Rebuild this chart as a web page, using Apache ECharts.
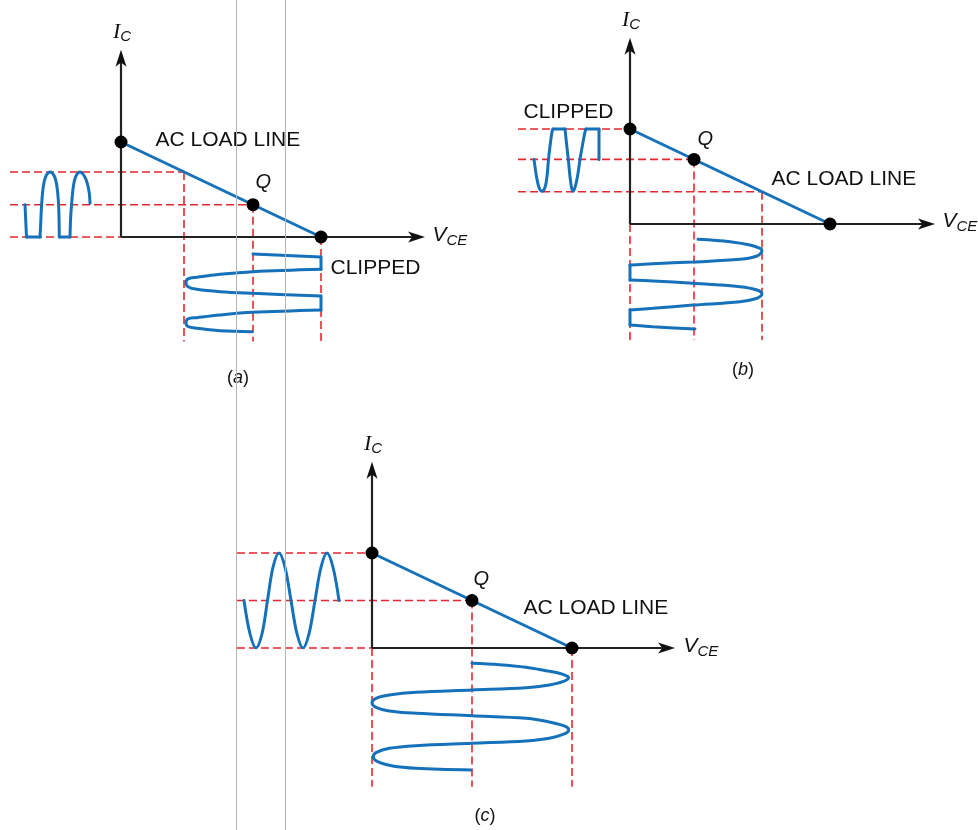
<!DOCTYPE html>
<html>
<head>
<meta charset="utf-8">
<script src="https://cdn.jsdelivr.net/npm/echarts@6/dist/echarts.min.js"></script>
<style>
html, body { margin: 0; background: #fff; }
#main { width: 978px; height: 830px; }
</style>
</head>
<body>
<div id="main"></div>
<script>
// units: V_CE in "volts" (cutoff = 20), I_C in "mA" (saturation = 10)
var panelNames = ['a', 'b', 'c'];
var loadLine = [[0, 10], [20, 0]];
var qPoints = [[13.2, 3.4], [6.4, 6.8], [10, 5]];
var axisEnds = [[30.4, 19.7], [30.5, 19.6], [30.3, 19.6]];

// red dashed projection lines, one segment each
var guidesA = [
  [[-11.1, 6.85], [6.3, 6.85]], [[-11.1, 3.4], [13.2, 3.4]], [[-11.1, 0], [0, 0]],
  [[6.3, 6.85], [6.3, -11]], [[13.2, 3.4], [13.2, -11]], [[20, 0], [20, -11]]
];
var guidesB = [
  [[-11.2, 10], [0, 10]], [[-11.2, 6.8], [6.4, 6.8]], [[-11.2, 3.4], [13.2, 3.4]],
  [[0, 0], [0, -12.2]], [[6.4, 6.8], [6.4, -12.2]], [[13.2, 3.4], [13.2, -12.2]]
];
var guidesC = [
  [[-13.5, 10], [0, 10]], [[-13.5, 5], [10, 5]], [[-13.5, 0], [0, 0]],
  [[0, 0], [0, -14.6]], [[10, 5], [10, -14.6]], [[20, 0], [20, -14.6]]
];

// input current waves (time runs left to right, left of the I_C axis)
var inputA = [
  [[-9.6, 3.4], [-9.45, 0]],
  [[-9.45, 0], [-8.1, 0]],
  [[-8.1, 0], [-8.03, 1.44], [-7.93, 3.55], [-7.77, 5.3], [-7.53, 6.35], [-7.1, 6.84], [-6.67, 6.42], [-6.43, 5.47], [-6.27, 3.9], [-6.2, 2.14], [-6.17, 0]],
  [[-6.17, 0], [-5.1, 0]],
  [[-5.1, 0], [-5.03, 2.14], [-4.93, 3.55], [-4.77, 5.3], [-4.53, 6.35], [-4.1, 6.84], [-3.67, 6.42], [-3.37, 5.65], [-3.17, 4.6], [-3.1, 3.55]]
];
var inputB = [
  [[-9.6, 6.8], [-9.35, 5.0], [-9.1, 3.85], [-8.8, 3.45], [-8.5, 3.85], [-8.3, 5.0], [-8.15, 6.8], [-7.95, 8.6], [-7.8, 9.7], [-7.7, 10]],
  [[-7.7, 10], [-6.5, 10]],
  [[-6.5, 10], [-6.35, 8.5], [-6.17, 6.8], [-6.0, 5.0], [-5.85, 3.85], [-5.7, 3.45], [-5.5, 3.85], [-5.25, 5.0], [-5.0, 6.8], [-4.7, 8.6], [-4.5, 9.7], [-4.4, 10]],
  [[-4.4, 10], [-3.1, 10]],
  [[-3.1, 10], [-3.1, 6.8]]
];
var inputC = [
  [[-12.8, 5], [-12.2, 1.5], [-11.6, 0], [-11.0, 1.5], [-10.45, 5], [-9.9, 8.5], [-9.3, 10], [-8.7, 8.5], [-8.1, 5],
   [-7.5, 1.5], [-6.9, 0], [-6.3, 1.5], [-5.7, 5], [-5.1, 8.5], [-4.5, 10], [-3.9, 8.5], [-3.3, 5]]
];

// output voltage waves (time runs downward, below the V_CE axis)
var outputA = [
  [[13.2, -1.79], [20, -2.11]],
  [[20, -2.11], [20, -3.4]],
  [[20, -3.4], [13.2, -3.65], [9.9, -3.93], [7.6, -4.24], [6.7, -4.4], [6.5, -4.81], [6.7, -5.23], [7.6, -5.51], [9.9, -5.76], [13.2, -5.93], [20, -6.21]],
  [[20, -6.21], [20, -7.68]],
  [[20, -7.68], [13.2, -7.93], [9.9, -8.21], [7.6, -8.49], [6.7, -8.62], [6.5, -9.02], [6.7, -9.42], [7.6, -9.61], [9.9, -9.86], [13.1, -9.97]]
];
var outputB = [
  [[6.8, -1.61], [10.0, -1.86], [12.0, -2.21], [13.0, -2.56], [13.2, -2.81], [12.7, -3.37], [11.0, -3.72], [6.3, -4.0], [2.3, -4.18], [0, -4.32]],
  [[0, -4.32], [0, -5.89]],
  [[0, -5.89], [2.3, -6.0], [6.3, -6.24], [11.0, -6.6], [12.7, -6.95], [13.2, -7.37], [12.7, -7.82], [11.0, -8.18], [6.3, -8.53], [2.3, -8.87], [0, -9.05]],
  [[0, -9.05], [0, -10.63]],
  [[0, -10.63], [2.3, -10.81], [6.5, -11.05]]
];
var outputC = [
  [[10.0, -1.61], [12.73, -1.76], [15.4, -2.03], [17.4, -2.39], [18.73, -2.66], [19.5, -2.95], [19.67, -3.1],
   [19.07, -3.55], [17.73, -3.89], [15.4, -4.18], [10.0, -4.42], [4.4, -4.66], [1.73, -4.95], [0.4, -5.29],
   [0, -5.76], [0.4, -6.24], [1.73, -6.63], [4.4, -6.87], [10.0, -7.13], [15.4, -7.4], [18.07, -7.86],
   [19.4, -8.28], [19.67, -8.63], [19.23, -9.05], [17.73, -9.51], [15.4, -9.79], [10.0, -10.03], [4.4, -10.28],
   [1.73, -10.56], [0.4, -11.02], [0.13, -11.44], [0.57, -11.97], [2.07, -12.42], [4.4, -12.66], [9.9, -12.84]]
];

var loadText = 'AC LOAD LINE';
var clipText = 'CLIPPED';
var qText = 'Q';

// ---- layout (pixels) ----
var SX = 10, SY = 9.5;
var layout = [
  { ox: 121, oy: 237, x: [-12, 35], y: [-16, 23] },
  { ox: 630, oy: 224, x: [-12, 34.5], y: [-16.5, 23.5] },
  { ox: 372, oy: 648, x: [-14, 32], y: [-19, 22.5] }
];
var labelSpots = [
  { ic: [0.1, 21.6], vce: [31.1, 0.2], load: [3.4, 10.2], q: [13.4, 5.7], clip: [20.9, -3.3], name: [11.7, -14.8] },
  { ic: [0.1, 21.5], vce: [31.2, 0.25], load: [14.1, 4.7], q: [6.7, 8.9], clip: [-10.7, 11.8], name: [11.3, -15.4] },
  { ic: [0.1, 21.5], vce: [31.1, 0.2], load: [15.1, 4.2], q: [10.1, 7.2], name: [11.3, -17.7] }
];

var guides = [guidesA, guidesB, guidesC];
var inputs = [inputA, inputB, inputC];
var outputs = [outputA, outputB, outputC];

var BLUE = '#1571ba';
var RED = '#e8262e';
var INK = '#111';
var upArrow = 'path://M5,0L10,16L5,12L0,16Z';
var rightArrow = 'path://M16,5L0,10L4,5L0,0Z';

var rich = {
  i: { fontFamily: 'Liberation Serif', fontStyle: 'italic', fontSize: 22, lineHeight: 26, color: INK },
  v: { fontFamily: 'Liberation Sans', fontStyle: 'italic', fontSize: 21, lineHeight: 26, color: INK },
  s: { fontFamily: 'Liberation Sans', fontStyle: 'italic', fontSize: 15, lineHeight: 15, padding: [11, 0, 0, 0], color: INK },
  t: { fontFamily: 'Liberation Sans', fontSize: 21, color: INK },
  q: { fontFamily: 'Liberation Sans', fontStyle: 'italic', fontSize: 20, color: INK },
  p: { fontFamily: 'Liberation Sans', fontSize: 18, color: INK },
  l: { fontFamily: 'Liberation Sans', fontStyle: 'italic', fontSize: 18, color: INK }
};

var grids = [], xAxes = [], yAxes = [], series = [];

function line(i, pts, extra) {
  return Object.assign({
    type: 'line', xAxisIndex: i, yAxisIndex: i, data: pts,
    symbol: 'none', silent: true, animation: false
  }, extra);
}

layout.forEach(function (L, i) {
  grids.push({
    left: L.ox + L.x[0] * SX,
    top: L.oy - L.y[1] * SY,
    width: (L.x[1] - L.x[0]) * SX,
    height: (L.y[1] - L.y[0]) * SY
  });
  xAxes.push({ type: 'value', gridIndex: i, min: L.x[0], max: L.x[1], show: false });
  yAxes.push({ type: 'value', gridIndex: i, min: L.y[0], max: L.y[1], show: false });

  guides[i].forEach(function (seg) {
    series.push(line(i, seg, { z: 1, lineStyle: { color: RED, width: 1.6, type: [8, 4] } }));
  });

  var ends = axisEnds[i];
  series.push(line(i, [[0, 0], [ends[0] - 0.6, 0]], { z: 2, lineStyle: { color: '#222', width: 2.2 } }));
  series.push(line(i, [[0, 0], [0, ends[1] - 0.6]], { z: 2, lineStyle: { color: '#222', width: 2.2 } }));
  series.push({
    type: 'scatter', xAxisIndex: i, yAxisIndex: i, silent: true, animation: false, z: 2,
    itemStyle: { color: '#111', opacity: 1 },
    data: [
      { value: [ends[0], 0], symbol: rightArrow, symbolSize: [17, 11], symbolOffset: ['-50%', 0] },
      { value: [0, ends[1]], symbol: upArrow, symbolSize: [11, 17], symbolOffset: [0, '50%'] }
    ]
  });

  inputs[i].concat(outputs[i]).forEach(function (piece) {
    series.push(line(i, piece, { z: 3, smooth: 0.35, lineStyle: { color: BLUE, width: 3, cap: 'round' } }));
  });

  series.push(line(i, loadLine, { z: 3, lineStyle: { color: BLUE, width: 3 } }));
  series.push({
    type: 'scatter', xAxisIndex: i, yAxisIndex: i, silent: true, animation: false, z: 4,
    symbolSize: 13, itemStyle: { color: '#000', opacity: 1 },
    data: [loadLine[0], qPoints[i], loadLine[1]]
  });

  var S = labelSpots[i];
  var lab = [
    { value: S.ic, label: { position: 'inside', formatter: '{i|I}{s|C}' } },
    { value: S.vce, label: { position: 'right', distance: 0, formatter: '{v|V}{s|CE}' } },
    { value: S.load, label: { position: 'right', distance: 0, formatter: '{t|' + loadText + '}' } },
    { value: S.q, label: { position: 'right', distance: 0, formatter: '{q|' + qText + '}' } },
    { value: S.name, label: { position: 'inside', formatter: '{p|(}{l|' + panelNames[i] + '}{p|)}' } }
  ];
  if (S.clip) lab.push({ value: S.clip, label: { position: 'right', distance: 0, formatter: '{t|' + clipText + '}' } });
  series.push({
    type: 'scatter', xAxisIndex: i, yAxisIndex: i, silent: true, animation: false, z: 5,
    symbolSize: 1, itemStyle: { color: 'rgba(255,255,255,0)', opacity: 1 },
    label: { show: true, color: INK, opacity: 1, textBorderWidth: 0, rich: rich },
    data: lab
  });
});

var chart = echarts.init(document.getElementById('main'));
chart.setOption({
  backgroundColor: '#fff',
  animation: false,
  grid: grids,
  xAxis: xAxes,
  yAxis: yAxes,
  graphic: [
    { type: 'line', z: 100, shape: { x1: 236.5, y1: 0, x2: 236.5, y2: 830 }, style: { stroke: '#b4b4b4', lineWidth: 1 } },
    { type: 'line', z: 100, shape: { x1: 285.5, y1: 0, x2: 285.5, y2: 830 }, style: { stroke: '#b4b4b4', lineWidth: 1 } }
  ],
  series: series
});
</script>
</body>
</html>
